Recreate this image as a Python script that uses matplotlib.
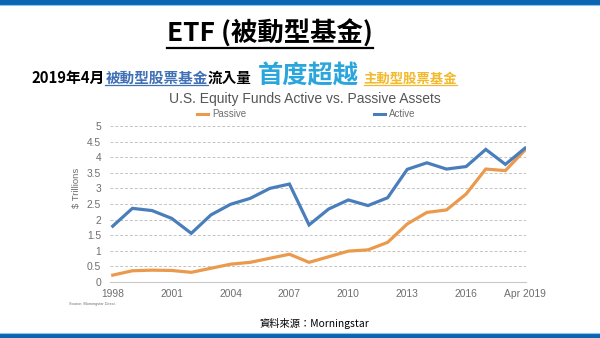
import matplotlib.pyplot as plt
from matplotlib.lines import Line2D

plt.rcParams['font.family'] = ['Noto Sans CJK TC', 'DejaVu Sans']
NARROW = ['Liberation Sans Narrow', 'Liberation Sans', 'DejaVu Sans']

# US equity fund assets, $ trillions
years = list(range(1998, 2020))
active = [1.79, 2.36, 2.29, 2.04, 1.56, 2.15, 2.49, 2.68, 3.00, 3.14, 1.83,
          2.34, 2.63, 2.45, 2.70, 3.61, 3.82, 3.62, 3.70, 4.25, 3.77, 4.29]
passive = [0.22, 0.36, 0.38, 0.37, 0.31, 0.44, 0.57, 0.63, 0.76, 0.89, 0.63,
           0.81, 0.99, 1.03, 1.27, 1.86, 2.23, 2.31, 2.82, 3.62, 3.57, 4.23]
xtick_years = [1998, 2001, 2004, 2007, 2010, 2013, 2016, 2019]
xtick_labels = ['1998', '2001', '2004', '2007', '2010', '2013', '2016', 'Apr 2019']
yticks = [0, 0.5, 1, 1.5, 2, 2.5, 3, 3.5, 4, 4.5, 5]

C_ACTIVE = '#4a7ebb'
C_PASSIVE = '#eb9a4d'
GRAY = '#6e6e6e'

W, H = 600, 338
fig = plt.figure(figsize=(W / 100, H / 100), dpi=100)
fig.patch.set_facecolor('white')

def fx(px):
    return px / W

def fy(py):
    return (H - py) / H

# blue bands top and bottom
fig.add_artist(plt.Rectangle((0, fy(4.5)), 1, 4.5 / H, transform=fig.transFigure,
                             color='#0b65b2', lw=0))
fig.add_artist(Line2D([0, 1], [fy(5.2), fy(5.2)], color='#8cc8ee', lw=0.8))
fig.add_artist(plt.Rectangle((0, 0), 1, 4.5 / H, transform=fig.transFigure,
                             color='#0b65b2', lw=0))
fig.add_artist(Line2D([0, 1], [fy(333), fy(333)], color='#8cc8ee', lw=0.8))

renderer = fig.canvas.get_renderer()

# main heading
t = fig.text(fx(270), fy(42), 'ETF (被動型基金)', ha='center', va='baseline',
             fontsize=19, fontweight='bold', color='black')
bb = t.get_window_extent(renderer)
fig.add_artist(Line2D([bb.x0 / W, bb.x1 / W], [fy(47.7), fy(47.7)],
                      color='black', lw=1.6))

# subtitle built from coloured pieces
pieces = [
    ('2019年4月', 10.7, 'black', False, 0),
    ('被動型股票基金', 10.5, '#3f6fb5', True, 0),
    ('流入量', 10.5, 'black', False, 0),
    ('首度超越', 18.2, '#2aa6dc', False, 6),
    ('主動型股票基金', 9.6, '#f2b92a', True, 5),
]
x = 32
for text, size, color, underline, gap in pieces:
    x += gap
    t = fig.text(fx(x), fy(83), text, ha='left', va='baseline', fontsize=size,
                 fontweight='bold', color=color)
    bb = t.get_window_extent(renderer)
    if underline:
        fig.add_artist(Line2D([bb.x0 / W, bb.x1 / W], [fy(85), fy(85)],
                              color=color, lw=0.9))
    x = bb.x1

# chart title and legend
fig.text(fx(305), fy(99), 'U.S. Equity Funds Active vs. Passive Assets',
         ha='center', va='center', fontsize=10, color='#555555', family=NARROW)
for x0, label, color in [(197, 'Passive', C_PASSIVE), (374, 'Active', C_ACTIVE)]:
    fig.add_artist(Line2D([fx(x0), fx(x0 + 11)], [fy(114), fy(114)], color=color, lw=2.2))
    fig.text(fx(x0 + 15), fy(114), label, ha='left', va='center', fontsize=7,
             color=GRAY, family=NARROW)

ax = fig.add_axes([fx(110), fy(282), fx(526) - fx(110), fy(126) - fy(282)])
ax.plot(years, passive, color=C_PASSIVE, lw=2.3, solid_joinstyle='miter')
ax.plot(years, active, color=C_ACTIVE, lw=2.3, solid_joinstyle='miter')
ax.set_xlim(1997.86, 2019.05)
ax.set_ylim(0, 5)
for v in yticks[1:]:
    ax.axhline(v, color='#c4c4c4', lw=0.7, ls=(0, (3, 2)), zorder=0)
for side in ['top', 'right', 'left']:
    ax.spines[side].set_visible(False)
ax.spines['bottom'].set_color('#c8c8c8')
ax.spines['bottom'].set_linewidth(0.8)
ax.set_yticks(yticks)
ax.set_yticklabels([f'{v:g}' for v in yticks], family=NARROW)
ax.set_xticks(xtick_years)
ax.set_xticklabels(xtick_labels, family=NARROW)
ax.tick_params(axis='both', length=0, labelsize=7.4, colors=GRAY)
ax.tick_params(axis='y', pad=6.5)
ax.tick_params(axis='x', pad=5)
ax.patch.set_alpha(0)

fig.text(fx(77), fy(188), '$ Trillions', rotation=90, ha='center', va='center',
         fontsize=6.8, color=GRAY, family=NARROW)
fig.text(fx(69), fy(304), 'Source: Morningstar Direct.', ha='left', va='center',
         fontsize=2.8, color=GRAY, family=NARROW)
fig.text(fx(314), fy(323), '資料來源：Morningstar', ha='center', va='center',
         fontsize=7.4, color='black')

fig.savefig('out.png', dpi=100)
